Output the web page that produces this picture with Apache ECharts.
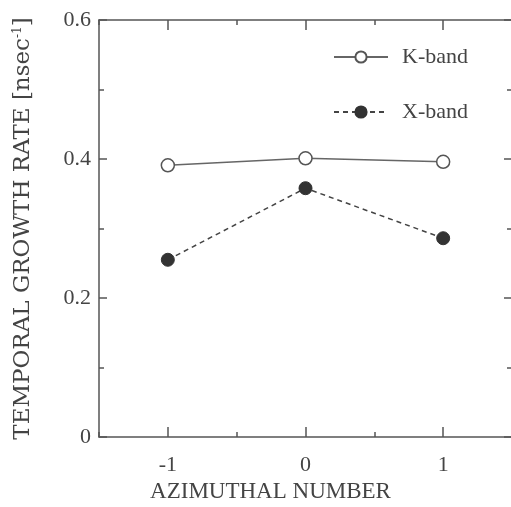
<!DOCTYPE html>
<html><head><meta charset="utf-8">
<script src="https://cdn.jsdelivr.net/npm/echarts@6/dist/echarts.min.js"></script>
<style>html,body{margin:0;padding:0;background:#fff}#c{width:511px;height:507px}</style>
</head><body><div id="c"></div>
<script>
const azimuthal = [-1, 0, 1];
const kBand = [0.391, 0.401, 0.396];
const xBand = [0.255, 0.358, 0.286];
const xMajorTicks = [-1, 0, 1];

const FONT = '"Liberation Serif", "Times New Roman", serif';
const AX = '#555';
const TXT = '#444';

const chart = echarts.init(document.getElementById('c'));
function xAx(pos, major, showLabel) {
  return {
    type: 'value', position: pos, min: -1.5, max: 1.5, interval: 0.5,
    axisLine: {show: !major, onZero: false, lineStyle: {color: AX, width: 1.5}},
    splitLine: {show: false},
    axisTick: major ? {inside: true, length: 10, customValues: xMajorTicks, lineStyle: {color: AX, width: 1.5}}
                    : {inside: true, length: 5, lineStyle: {color: AX, width: 1.5}},
    axisLabel: {show: showLabel, customValues: xMajorTicks, color: TXT, fontFamily: FONT, fontSize: 22, margin: 17,
      formatter: v => String(v)},
    name: showLabel ? 'AZIMUTHAL NUMBER' : '', nameLocation: 'middle', nameGap: 43,
    nameTextStyle: {color: TXT, fontFamily: FONT, fontSize: 23, padding: [0, 70, 0, 0]}
  };
}
function yAx(pos, showLabel) {
  return {
    type: 'value', position: pos, min: 0, max: 0.6, interval: 0.2,
    axisLine: {show: true, onZero: false, lineStyle: {color: AX, width: 1.5}},
    splitLine: {show: false},
    axisTick: {inside: true, length: 8, lineStyle: {color: AX, width: 1.5}},
    minorTick: {show: true, splitNumber: 2, length: 5, lineStyle: {color: AX, width: 1.5}},
    axisLabel: {show: showLabel, color: TXT, fontFamily: FONT, fontSize: 22, margin: 8,
      formatter: v => v === 0 ? '0' : v.toFixed(1)},
    name: showLabel ? 'TEMPORAL GROWTH RATE [nsec{sup|-1}]' : '', nameLocation: 'middle', nameGap: 64,
    nameTextStyle: {color: TXT, fontFamily: '"DejaVu Serif", serif', fontSize: 23,
      rich: {sup: {fontSize: 12, verticalAlign: 'top', lineHeight: 12, padding: [0,0,9,0], color: TXT, fontFamily: '"DejaVu Serif", serif'}}}
  };
}
chart.setOption({
  animation: false,
  backgroundColor: '#fff',
  grid: {left: 99, top: 20, width: 413, height: 417, outerBoundsMode: 'none', containLabel: false},
  xAxis: [xAx('bottom', false, true), xAx('bottom', true, false), xAx('top', false, false), xAx('top', true, false)],
  yAxis: [yAx('left', true), yAx('right', false)],
  legend: {
    orient: 'vertical', left: 328, top: 41, itemWidth: 54, itemHeight: 14, itemGap: 33,
    textStyle: {color: TXT, fontFamily: FONT, fontSize: 22, padding: [0, 0, 0, 9]},
    data: ['K-band', 'X-band']
  },
  series: [
    {name: 'K-band', type: 'line', data: azimuthal.map((a, i) => [a, kBand[i]]),
     symbol: 'circle', symbolSize: 13,
     itemStyle: {color: '#fff', borderColor: '#555', borderWidth: 1.5},
     lineStyle: {color: '#666', width: 1.5, type: 'solid'}},
    {name: 'X-band', type: 'line', data: azimuthal.map((a, i) => [a, xBand[i]]),
     symbol: 'circle', symbolSize: 13,
     itemStyle: {color: '#333', borderColor: '#333', borderWidth: 1},
     lineStyle: {color: '#444', width: 1.5, type: [5, 4]}}
  ]
});
</script></body></html>
